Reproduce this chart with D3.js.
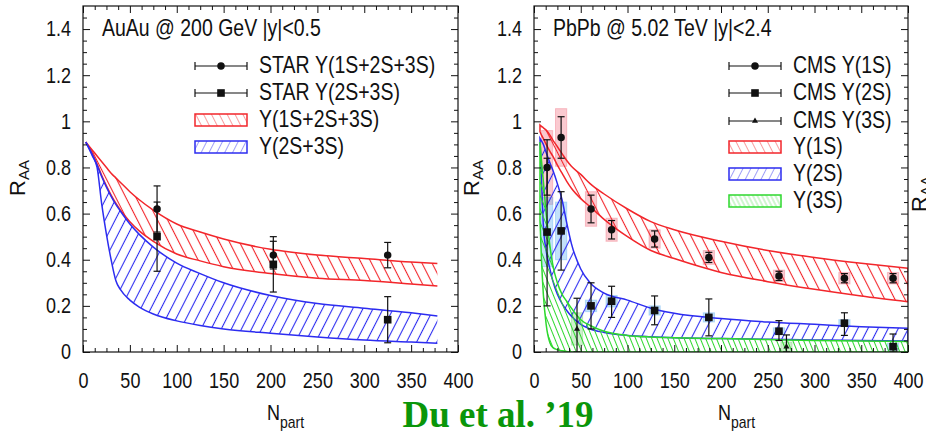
<!DOCTYPE html>
<html>
<head>
<meta charset="utf-8">
<script src="https://cdn.jsdelivr.net/npm/d3@7"></script>
<style>
  body { margin: 0; background: #fff; }
  svg { display: block; font-family: "Liberation Sans", Arial, Helvetica, sans-serif; }
</style>
</head>
<body>
<svg id="chart" width="926" height="440"></svg>
<script>
/* Upsilon R_AA vs Npart, two panels (RHIC / LHC) */

// ---- tick labels
const xTicks = [0, 50, 100, 150, 200, 250, 300, 350, 400];
const yTicks = [0, 0.2, 0.4, 0.6, 0.8, 1, 1.2, 1.4];
const yTickLabels = ["0", "0.2", "0.4", "0.6", "0.8", "1", "1.2", "1.4"];

// ---- left panel: AuAu 200 GeV, model bands
const auNpart = [3, 10, 15, 20, 25, 30, 35, 40, 50, 60, 75, 100, 125, 150, 200, 250, 300, 350, 378];
const au123Hi = [0.91, 0.875, 0.85, 0.825, 0.80, 0.775, 0.755, 0.735, 0.695, 0.66, 0.615, 0.555, 0.52, 0.49, 0.445, 0.42, 0.405, 0.39, 0.384];
const au123Lo = [0.91, 0.86, 0.815, 0.765, 0.72, 0.68, 0.645, 0.615, 0.565, 0.525, 0.48, 0.425, 0.395, 0.37, 0.34, 0.32, 0.31, 0.295, 0.286];
const au23Hi  = [0.91, 0.855, 0.81, 0.76, 0.715, 0.675, 0.64, 0.61, 0.555, 0.51, 0.455, 0.385, 0.34, 0.30, 0.245, 0.21, 0.19, 0.17, 0.156];
const au23Lo  = [0.91, 0.85, 0.80, 0.64, 0.51, 0.40, 0.31, 0.27, 0.225, 0.195, 0.165, 0.135, 0.115, 0.10, 0.081, 0.065, 0.052, 0.043, 0.038];

// ---- left panel: STAR data
const starNpart = [79, 203, 325];
const star123 = [0.62, 0.42, 0.42];
const star123ErrHi = [0.10, 0.08, 0.055];
const star123ErrLo = [0.10, 0.06, 0.055];
const star23 = [0.50, 0.38, 0.14];
const star23ErrHi = [0.15, 0.10, 0.10];
const star23ErrLo = [0.15, 0.12, 0.10];

// ---- right panel: PbPb 5.02 TeV, model bands
const pbNpart = [6.4, 8, 10, 13, 17, 20, 25, 30, 35, 40, 50, 60, 75, 100, 125, 150, 200, 250, 300, 350, 400];
const pb1sHi = [0.984, 0.978, 0.972, 0.962, 0.94, 0.92, 0.89, 0.86, 0.83, 0.805, 0.77, 0.73, 0.685, 0.62, 0.565, 0.53, 0.48, 0.44, 0.41, 0.385, 0.363];
const pb1sLo = [0.955, 0.94, 0.925, 0.90, 0.87, 0.85, 0.81, 0.775, 0.74, 0.71, 0.665, 0.63, 0.575, 0.50, 0.44, 0.405, 0.345, 0.305, 0.272, 0.243, 0.218];
const pb2sHi = [0.926, 0.915, 0.90, 0.865, 0.82, 0.79, 0.73, 0.66, 0.56, 0.47, 0.36, 0.30, 0.255, 0.225, 0.19, 0.168, 0.145, 0.13, 0.12, 0.11, 0.103];
const pb2sLo = [0.926, 0.75, 0.55, 0.44, 0.36, 0.31, 0.25, 0.21, 0.18, 0.155, 0.12, 0.10, 0.085, 0.072, 0.066, 0.062, 0.058, 0.055, 0.052, 0.05, 0.048];
const pb3sHi = [0.91, 0.83, 0.74, 0.60, 0.46, 0.38, 0.30, 0.25, 0.22, 0.19, 0.14, 0.115, 0.09, 0.072, 0.065, 0.062, 0.058, 0.054, 0.05, 0.048, 0.046];
const pb3sLo = [0.57, 0.40, 0.25, 0.12, 0.04, 0.02, 0.01, 0.005, 0.002, 0, 0, 0, 0, 0, 0, 0, 0, 0, 0, 0, 0];

// ---- right panel: CMS data
const cms1sNpart = [14, 29, 61, 83, 129, 187, 262, 332, 384];
const cms1s      = [0.80, 0.93, 0.62, 0.53, 0.49, 0.41, 0.33, 0.32, 0.32];
const cms1sStat  = [0.12, 0.09, 0.06, 0.04, 0.035, 0.022, 0.02, 0.02, 0.02];
const cms1sSyst  = [0.16, 0.125, 0.075, 0.05, 0.04, 0.03, 0.025, 0.025, 0.025];
const cms2sNpart = [14, 29, 61, 83, 129, 187, 262, 332, 384];
const cms2s      = [0.52, 0.525, 0.20, 0.22, 0.18, 0.15, 0.09, 0.125, 0.023];
const cms2sStatHi = [0.32, 0.17, 0.10, 0.065, 0.063, 0.08, 0.046, 0.045, 0.055];
const cms2sStatLo = [0.32, 0.17, 0.10, 0.07, 0.062, 0.08, 0.04, 0.053, 0.023];
const cms2sSyst  = [0.15, 0.125, 0.025, 0.025, 0.02, 0.02, 0.015, 0.015, 0.015];
const cms3sNpart = [46, 270];
const cms3s      = [0.10, 0.023];
const cms3sStatHi = [0.133, 0.051];
const cms3sStatLo = [0.10, 0.023];
const cms3sSyst  = [0.07, 0.02];

// ---- legends / labels
const auTitle = "AuAu @ 200 GeV |y|<0.5";
const pbTitle = "PbPb @ 5.02 TeV |y|<2.4";
const auLegend = ["STAR Υ(1S+2S+3S)", "STAR Υ(2S+3S)", "Υ(1S+2S+3S)", "Υ(2S+3S)"];
const pbLegend = ["CMS Υ(1S)", "CMS Υ(2S)", "CMS Υ(3S)", "Υ(1S)", "Υ(2S)", "Υ(3S)"];

const RED = "#f2262b", BLUE = "#2c2cf0", GREEN = "#2ed82e";
const STRETCH = 1.2;   // text in the source is drawn tall and narrow

const svg = d3.select("#chart");
const defs = svg.append("defs");

makeHatch = (id, color, angle, spacing, width, opacity = 1) => {
    defs.append("pattern")
        .attr("id", id)
        .attr("patternUnits", "userSpaceOnUse")
        .attr("width", spacing)
        .attr("height", spacing)
        .attr("patternTransform", `rotate(${angle})`)
        .append("line")
        .attr("x1", spacing / 2).attr("x2", spacing / 2)
        .attr("y1", -1).attr("y2", spacing + 1)
        .attr("stroke", color)
        .attr("stroke-opacity", opacity)
        .attr("stroke-width", width);
}

makeHatch("h-red", RED, -27, 9, 1.1);
makeHatch("h-blue", BLUE, 27, 9, 1.1);
makeHatch("h-green", GREEN, -22, 5, 1.0);
makeHatch("hl-red", RED, -27, 7, 1.0, 0.45);
makeHatch("hl-blue", BLUE, 27, 7, 1.0, 0.45);
makeHatch("hl-green", GREEN, -27, 4, 1.0, 0.45);

stretchText = (g, x, y, txt, size, anchor = "start") =>
    g.append("text")
        .attr("transform", `translate(${x},${y}) scale(1,${STRETCH})`)
        .attr("font-size", size)
        .attr("text-anchor", anchor)
        .attr("fill", "#111")
        .text(txt);

appendAxes = (g, x, y) => {
    const [x0, x1] = x.range();
    const [yb, yt] = y.range();
    const xMinor = d3.range(0, 400.1, 12.5).filter(v => v % 50 !== 0);
    const yMinor = d3.range(1, 30).map(i => i * 0.05).filter(v => Math.abs(v * 5 - Math.round(v * 5)) > 1e-6);

    const noDomain = s => s.select(".domain").remove();
    const styleText = s => s.selectAll("text")
        .attr("font-size", 18)
        .attr("fill", "#111")
        .attr("transform", `scale(1,${STRETCH})`);

    g.append("g").attr("transform", `translate(0,${yb})`)
        .call(d3.axisBottom(x).tickValues(xTicks).tickFormat(d3.format("d"))
            .tickSizeInner(-7).tickSizeOuter(0).tickPadding(17))
        .call(noDomain).call(styleText);
    g.append("g").attr("transform", `translate(0,${yb})`)
        .call(d3.axisBottom(x).tickValues(xMinor).tickFormat("").tickSizeInner(-4).tickSizeOuter(0))
        .call(noDomain);
    g.append("g").attr("transform", `translate(0,${yt})`)
        .call(d3.axisTop(x).tickValues(xTicks).tickFormat("").tickSizeInner(-7).tickSizeOuter(0))
        .call(noDomain);
    g.append("g").attr("transform", `translate(0,${yt})`)
        .call(d3.axisTop(x).tickValues(xMinor).tickFormat("").tickSizeInner(-4).tickSizeOuter(0))
        .call(noDomain);

    g.append("g").attr("transform", `translate(${x0},0)`)
        .call(d3.axisLeft(y).tickValues(yTicks).tickFormat((d, i) => yTickLabels[i])
            .tickSizeInner(-7).tickSizeOuter(0).tickPadding(12))
        .call(noDomain).call(styleText);
    g.append("g").attr("transform", `translate(${x0},0)`)
        .call(d3.axisLeft(y).tickValues(yMinor).tickFormat("").tickSizeInner(-4).tickSizeOuter(0))
        .call(noDomain);
    g.append("g").attr("transform", `translate(${x1},0)`)
        .call(d3.axisRight(y).tickValues(yTicks).tickFormat("").tickSizeInner(-7).tickSizeOuter(0))
        .call(noDomain);
    g.append("g").attr("transform", `translate(${x1},0)`)
        .call(d3.axisRight(y).tickValues(yMinor).tickFormat("").tickSizeInner(-4).tickSizeOuter(0))
        .call(noDomain);

    g.selectAll(".tick line").attr("stroke", "#111");

    g.append("rect")
        .attr("x", x0).attr("y", yt)
        .attr("width", x1 - x0).attr("height", yb - yt)
        .attr("fill", "none").attr("stroke", "#111").attr("stroke-width", 1.2);
}

appendBand = (g, x, y, n, hi, lo, color, hatch, closed = false) => {
    const data = n.map((v, i) => ({ n: v, hi: hi[i], lo: lo[i] }));
    const area = d3.area().curve(d3.curveMonotoneX)
        .x(d => x(d.n)).y0(d => y(d.lo)).y1(d => y(d.hi));
    g.append("path").datum(data)
        .attr("d", area)
        .attr("fill", `url(#${hatch})`)
        .attr("stroke", closed ? color : "none")
        .attr("stroke-width", 1.5);
    if (!closed) {
        ["hi", "lo"].forEach(k => {
            g.append("path").datum(data)
                .attr("d", d3.line().curve(d3.curveMonotoneX).x(d => x(d.n)).y(d => y(d[k])))
                .attr("fill", "none")
                .attr("stroke", color)
                .attr("stroke-width", 1.5);
        });
    }
}

appendSyst = (g, x, y, n, v, syst, fill) => {
    g.append("g").selectAll("rect")
        .data(n.map((d, i) => ({ n: d, v: v[i], s: syst[i] })))
        .join("rect")
        .attr("x", d => x(d.n - 6))
        .attr("width", d => x(d.n + 6) - x(d.n - 6))
        .attr("y", d => y(d.v + d.s))
        .attr("height", d => y(d.v - d.s) - y(d.v + d.s))
        .attr("fill", fill)
        .attr("stroke", fill)
        .attr("stroke-width", 1);
}

markerPath = (shape) => {
    if (shape === "circle") return d3.symbol(d3.symbolCircle, 44)();
    if (shape === "square") return d3.symbol(d3.symbolSquare, 58)();
    return d3.symbol(d3.symbolTriangle, 16)();
}

appendPoints = (g, x, y, n, v, errHi, errLo, shape) => {
    const pts = n.map((d, i) => ({ n: d, v: v[i], hi: v[i] + errHi[i], lo: Math.max(0, v[i] - errLo[i]) }));
    const bars = g.append("g").attr("stroke", "#111").attr("stroke-width", 1.2);
    bars.selectAll("line.bar").data(pts).join("line")
        .attr("x1", d => x(d.n)).attr("x2", d => x(d.n))
        .attr("y1", d => y(d.hi)).attr("y2", d => y(d.lo));
    ["hi", "lo"].forEach(k => {
        bars.selectAll("line.cap-" + k).data(pts).join("line")
            .attr("x1", d => x(d.n) - 3.5).attr("x2", d => x(d.n) + 3.5)
            .attr("y1", d => y(d[k])).attr("y2", d => y(d[k]));
    });
    g.append("g").selectAll("path").data(pts).join("path")
        .attr("transform", d => `translate(${x(d.n)},${y(d.v)})`)
        .attr("d", markerPath(shape))
        .attr("fill", "#111");
}

appendLegend = (g, x0, rows) => {
    rows.forEach((r, i) => {
        const cy = r.y;
        if (r.type === "point") {
            g.append("line").attr("x1", x0).attr("x2", x0 + 52).attr("y1", cy).attr("y2", cy)
                .attr("stroke", "#111").attr("stroke-width", 1.2);
            [x0, x0 + 52].forEach(cx => g.append("line")
                .attr("x1", cx).attr("x2", cx).attr("y1", cy - 4).attr("y2", cy + 4)
                .attr("stroke", "#111").attr("stroke-width", 1.2));
            g.append("path").attr("transform", `translate(${x0 + 26},${cy})`)
                .attr("d", markerPath(r.shape)).attr("fill", "#111");
        } else {
            g.append("rect").attr("x", x0).attr("y", cy - 6).attr("width", 52).attr("height", 12)
                .attr("fill", `url(#${r.hatch})`).attr("stroke", r.color).attr("stroke-width", 1.5);
        }
        stretchText(g, x0 + 64, cy + 7, r.label, 19.5);
    });
}

appendRaaLabel = (x, cy) => {
    const t = svg.append("text")
        .attr("transform", `translate(${x},${cy}) rotate(-90)`)
        .attr("text-anchor", "middle")
        .attr("fill", "#111");
    t.append("tspan").attr("font-size", 22).text("R");
    t.append("tspan").attr("font-size", 15).attr("dy", 4).text("AA");
}

appendNpartLabel = (x, y) => {
    const t = svg.append("text")
        .attr("transform", `translate(${x},${y}) scale(1,${STRETCH})`)
        .attr("fill", "#111");
    t.append("tspan").attr("font-size", 18).text("N");
    t.append("tspan").attr("font-size", 14).attr("dy", 7).text("part");
}

/**************** left panel ****************/
{
    const x = d3.scaleLinear().domain([0, 400]).range([83, 458]);
    const y = d3.scaleLinear().domain([0, 1.5]).range([352, 6]);
    const g = svg.append("g");
    defs.append("clipPath").attr("id", "clip-au").append("rect")
        .attr("x", 83).attr("y", 6).attr("width", 375).attr("height", 346);
    const plot = g.append("g").attr("clip-path", "url(#clip-au)");
    appendBand(plot, x, y, auNpart, au123Hi, au123Lo, RED, "h-red");
    appendBand(plot, x, y, auNpart, au23Hi, au23Lo, BLUE, "h-blue");
    appendPoints(plot, x, y, starNpart, star123, star123ErrHi, star123ErrLo, "circle");
    appendPoints(plot, x, y, starNpart, star23, star23ErrHi, star23ErrLo, "square");
    appendAxes(g, x, y);
    stretchText(g, 102, 36, auTitle, 19.5);
    appendLegend(g, 195, [
        { type: "point", shape: "circle", label: auLegend[0], y: 66 },
        { type: "point", shape: "square", label: auLegend[1], y: 93 },
        { type: "band", hatch: "hl-red", color: RED, label: auLegend[2], y: 120 },
        { type: "band", hatch: "hl-blue", color: BLUE, label: auLegend[3], y: 147 }
    ]);
}

/**************** right panel ****************/
{
    const x = d3.scaleLinear().domain([0, 400]).range([534, 908]);
    const y = d3.scaleLinear().domain([0, 1.5]).range([352, 6]);
    const g = svg.append("g");
    defs.append("clipPath").attr("id", "clip-pb").append("rect")
        .attr("x", 534).attr("y", 6).attr("width", 374).attr("height", 346);
    const plot = g.append("g").attr("clip-path", "url(#clip-pb)");
    appendSyst(plot, x, y, cms1sNpart, cms1s, cms1sSyst, "rgba(240,90,110,0.32)");
    appendSyst(plot, x, y, cms2sNpart, cms2s, cms2sSyst, "rgba(80,170,240,0.35)");
    appendSyst(plot, x, y, cms3sNpart, cms3s, cms3sSyst, "rgba(90,200,90,0.3)");
    appendBand(plot, x, y, pbNpart, pb1sHi, pb1sLo, RED, "h-red", true);
    appendBand(plot, x, y, pbNpart, pb2sHi, pb2sLo, BLUE, "h-blue", true);
    appendBand(plot, x, y, pbNpart, pb3sHi, pb3sLo, GREEN, "h-green", true);
    appendPoints(plot, x, y, cms1sNpart, cms1s, cms1sStat, cms1sStat, "circle");
    appendPoints(plot, x, y, cms2sNpart, cms2s, cms2sStatHi, cms2sStatLo, "square");
    appendPoints(plot, x, y, cms3sNpart, cms3s, cms3sStatHi, cms3sStatLo, "triangle");
    appendAxes(g, x, y);
    stretchText(g, 553, 36, pbTitle, 19.5);
    appendLegend(g, 729, [
        { type: "point", shape: "circle", label: pbLegend[0], y: 66 },
        { type: "point", shape: "square", label: pbLegend[1], y: 93 },
        { type: "point", shape: "triangle", label: pbLegend[2], y: 121 },
        { type: "band", hatch: "hl-red", color: RED, label: pbLegend[3], y: 147 },
        { type: "band", hatch: "hl-blue", color: BLUE, label: pbLegend[4], y: 174 },
        { type: "band", hatch: "hl-green", color: GREEN, label: pbLegend[5], y: 201 }
    ]);
}

appendRaaLabel(25, 178);
appendRaaLabel(479, 178);
appendRaaLabel(927, 194);
appendNpartLabel(267, 420);
appendNpartLabel(718, 420);

svg.append("text")
    .attr("x", 498).attr("y", 427)
    .attr("text-anchor", "middle")
    .attr("font-family", "'Liberation Serif', 'Times New Roman', serif")
    .attr("font-weight", "bold")
    .attr("font-size", 37)
    .attr("fill", "#0a960a")
    .text("Du et al. ’19");
</script>
</body>
</html>
